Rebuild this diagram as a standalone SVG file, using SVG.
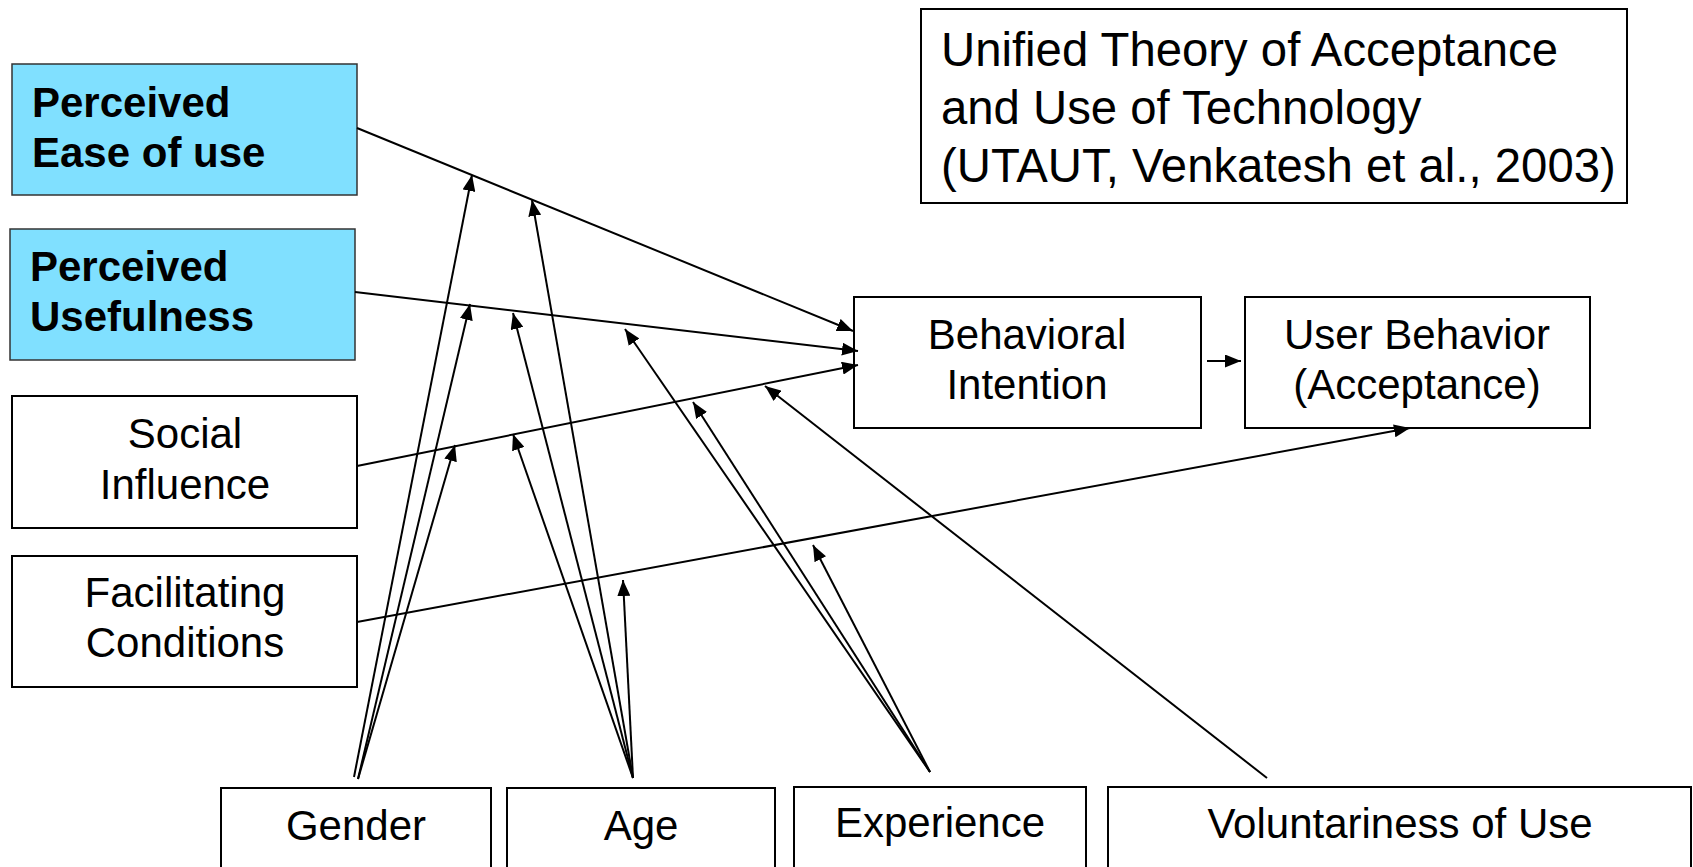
<svg xmlns="http://www.w3.org/2000/svg" width="1693" height="867" viewBox="0 0 1693 867">
<style>
.box{fill:#fff;stroke:#000;stroke-width:2}
.blue{fill:#80e0ff;stroke:#333;stroke-width:1.5}
.t{font-family:"Liberation Sans",Arial,sans-serif;font-size:42px;fill:#000}
.c{text-anchor:middle}
.b{font-weight:bold}
.title{font-family:"Liberation Sans",Arial,sans-serif;font-size:47.3px;fill:#000}
#connectors line{stroke:#000;stroke-width:2;fill:none;marker-end:url(#ah)}
</style>
<defs>
<marker id="ah" markerUnits="userSpaceOnUse" markerWidth="17" markerHeight="13" refX="16" refY="6.5" orient="auto">
<path d="M0,0 L16,6.5 L0,13 z" fill="#000"/>
</marker>
</defs>
<rect width="1693" height="867" fill="#fff"/>
<g id="title">
<rect class="box" x="921" y="9" width="706" height="194"/>
<text class="title" x="941" y="66">Unified Theory of Acceptance</text>
<text class="title" x="941" y="124">and Use of Technology</text>
<text class="title" x="941" y="182">(UTAUT, Venkatesh et al., 2003)</text>
</g>
<g id="peou">
<rect class="blue" x="12" y="64" width="345" height="131"/>
<text class="t b" x="32" y="117">Perceived</text>
<text class="t b" x="32" y="167">Ease of use</text>
</g>
<g id="pu">
<rect class="blue" x="10" y="229" width="345" height="131"/>
<text class="t b" x="30" y="281">Perceived</text>
<text class="t b" x="30" y="331">Usefulness</text>
</g>
<g id="si">
<rect class="box" x="12" y="396" width="345" height="132"/>
<text class="t c" x="185" y="448">Social</text>
<text class="t c" x="185" y="499">Influence</text>
</g>
<g id="fc">
<rect class="box" x="12" y="556" width="345" height="131"/>
<text class="t c" x="185" y="607">Facilitating</text>
<text class="t c" x="185" y="657">Conditions</text>
</g>
<g id="bi">
<rect class="box" x="854" y="297" width="347" height="131"/>
<text class="t c" x="1027" y="349">Behavioral</text>
<text class="t c" x="1027" y="399">Intention</text>
</g>
<g id="ub">
<rect class="box" x="1245" y="297" width="345" height="131"/>
<text class="t c" x="1417" y="349">User Behavior</text>
<text class="t c" x="1417" y="399">(Acceptance)</text>
</g>
<g id="gender">
<rect class="box" x="221" y="788" width="270" height="100"/>
<text class="t c" x="356" y="840">Gender</text>
</g>
<g id="age">
<rect class="box" x="507" y="788" width="268" height="100"/>
<text class="t c" x="641" y="840">Age</text>
</g>
<g id="experience">
<rect class="box" x="794" y="787" width="292" height="100"/>
<text class="t c" x="940" y="837">Experience</text>
</g>
<g id="voluntariness">
<rect class="box" x="1108" y="787" width="583" height="100"/>
<text class="t c" x="1400" y="838">Voluntariness of Use</text>
</g>
<g id="connectors">
<line x1="357" y1="128" x2="853" y2="331"/>
<line x1="355" y1="292" x2="858" y2="351"/>
<line x1="357" y1="466" x2="858" y2="365"/>
<line x1="357" y1="622" x2="1410" y2="428"/>
<line x1="1207" y1="361" x2="1241" y2="361"/>
<line x1="354" y1="777" x2="472" y2="175"/>
<line x1="358" y1="779" x2="470" y2="304"/>
<line x1="358" y1="779" x2="455" y2="445"/>
<line x1="633" y1="778" x2="532" y2="200"/>
<line x1="633" y1="778" x2="513" y2="313"/>
<line x1="633" y1="778" x2="513" y2="434"/>
<line x1="633" y1="778" x2="623" y2="580"/>
<line x1="930" y1="772" x2="625" y2="329"/>
<line x1="930" y1="772" x2="693" y2="402"/>
<line x1="930" y1="772" x2="813" y2="545"/>
<line x1="1267" y1="778" x2="765" y2="386"/>
</g>
</svg>
